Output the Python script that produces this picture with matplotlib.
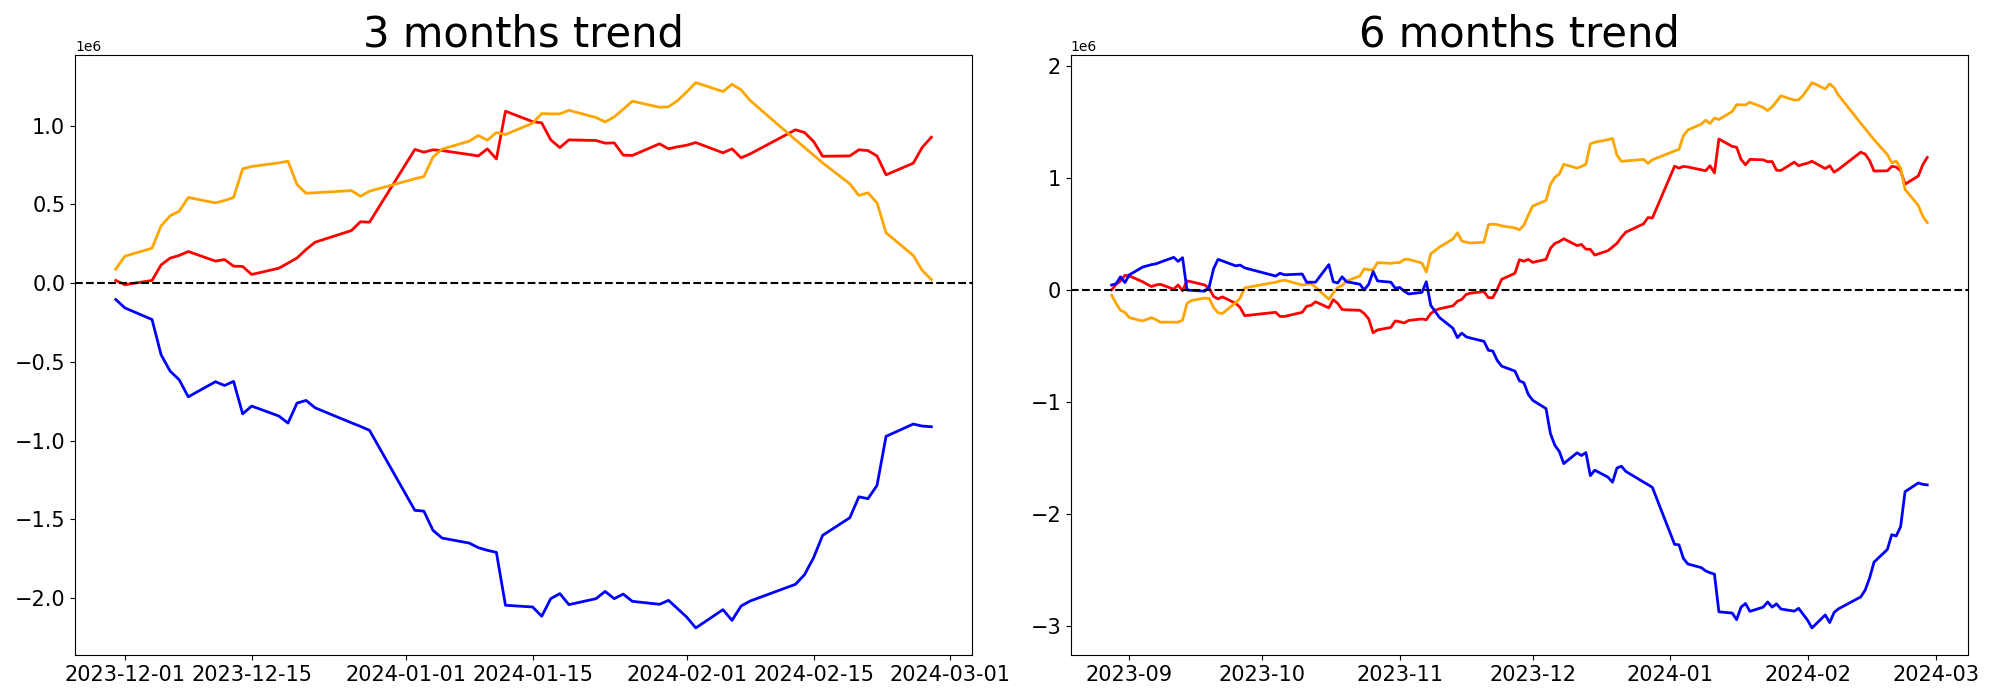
import matplotlib
matplotlib.use("Agg")
import matplotlib.pyplot as plt
import numpy as np
import pandas as pd

# Korean market closing days inside the plotted range
holidays = ['2023-09-28', '2023-09-29', '2023-10-02', '2023-10-03', '2023-10-09',
            '2023-12-25', '2023-12-29', '2024-01-01', '2024-02-09', '2024-02-12']

days_3m = pd.bdate_range('2023-11-30', '2024-02-28').drop(pd.to_datetime(holidays), errors='ignore')
days_6m = pd.bdate_range('2023-08-28', '2024-02-28').drop(pd.to_datetime(holidays), errors='ignore')

# values in millions
red_3m = [0.017, -0.01, 0.017, 0.116, 0.159, 0.176, 0.201, 0.14, 0.15, 0.108,
          0.106, 0.055, 0.095, 0.127, 0.16, 0.214, 0.26, 0.334, 0.39, 0.387,
          0.849, 0.832, 0.847, 0.842, 0.817, 0.808, 0.853, 0.789, 1.092, 1.026,
          1.018, 0.91, 0.861, 0.91, 0.906, 0.889, 0.891, 0.813, 0.811, 0.885,
          0.853, 0.866, 0.876, 0.893, 0.828, 0.853, 0.796, 0.821, 0.974, 0.957,
          0.9, 0.806, 0.808, 0.847, 0.842, 0.808, 0.688, 0.762, 0.863, 0.927]
orange_3m = [0.089, 0.171, 0.222, 0.364, 0.428, 0.457, 0.544, 0.51, 0.525, 0.544,
             0.726, 0.741, 0.764, 0.775, 0.626, 0.571, 0.574, 0.588, 0.552, 0.584,
             0.663, 0.677, 0.8, 0.851, 0.902, 0.938, 0.908, 0.957, 0.944, 1.016,
             1.077, 1.075, 1.075, 1.098, 1.052, 1.024, 1.056, 1.105, 1.156, 1.117,
             1.12, 1.16, 1.215, 1.274, 1.217, 1.263, 1.228, 1.16, 0.911, 0.862,
             0.813, 0.764, 0.631, 0.557, 0.574, 0.51, 0.32, 0.176, 0.08, 0.023]
blue_3m = [-0.104, -0.157, -0.231, -0.455, -0.559, -0.614, -0.722, -0.626, -0.65, -0.624,
           -0.83, -0.781, -0.844, -0.889, -0.762, -0.745, -0.792, -0.887, -0.91, -0.935,
           -1.443, -1.448, -1.57, -1.619, -1.651, -1.68, -1.697, -1.71, -2.046, -2.057,
           -2.116, -2.004, -1.972, -2.042, -2.004, -1.958, -2.004, -1.975, -2.021, -2.04,
           -2.015, -2.068, -2.121, -2.19, -2.074, -2.142, -2.051, -2.019, -1.913, -1.852,
           -1.744, -1.602, -1.49, -1.357, -1.369, -1.285, -0.973, -0.895, -0.908, -0.912]

red_6m = [0.0, 0.05, 0.08, 0.13, 0.125, 0.073, 0.05, 0.03, 0.044, 0.05,
          0.007, 0.044, -0.007, 0.08, 0.073, 0.044, 0.015, -0.058, -0.08, -0.062,
          -0.12, -0.157, -0.23, -0.2, -0.237, -0.237, -0.2, -0.146, -0.138, -0.106,
          -0.16, -0.087, -0.12, -0.175, -0.178, -0.182, -0.211, -0.259, -0.383, -0.357,
          -0.335, -0.277, -0.284, -0.295, -0.273, -0.259, -0.266, -0.211, -0.182, -0.168,
          -0.142, -0.102, -0.084, -0.04, -0.029, -0.015, -0.069, -0.069, 0.007, 0.095,
          0.149, 0.27, 0.256,
          0.273, 0.246, 0.273, 0.372, 0.415, 0.432, 0.457, 0.396, 0.406, 0.364,
          0.362, 0.311, 0.351, 0.383, 0.416, 0.47, 0.516, 0.59, 0.646, 0.643,
          1.105, 1.088, 1.103, 1.098, 1.073, 1.064, 1.109, 1.045, 1.348, 1.282,
          1.274, 1.166, 1.117, 1.166, 1.162, 1.145, 1.147, 1.069, 1.067, 1.141,
          1.109, 1.122, 1.132, 1.149, 1.084, 1.109, 1.052, 1.077, 1.23, 1.213,
          1.156, 1.062, 1.064, 1.103, 1.098, 1.064, 0.944, 1.018, 1.119, 1.183]
orange_6m = [-0.047, -0.12, -0.182, -0.2, -0.248, -0.277, -0.262, -0.248, -0.266, -0.288,
             -0.288, -0.288, -0.27, -0.12, -0.095, -0.073, -0.077, -0.157, -0.204, -0.211,
             -0.113, -0.073, 0.018, 0.069, 0.08, 0.087, 0.044, 0.051, 0.055, 0.026,
             -0.084, -0.029, 0.022, 0.04, 0.08, 0.124, 0.189, 0.179, 0.182, 0.244,
             0.237, 0.244, 0.244, 0.273, 0.273, 0.24, 0.16, 0.324, 0.353, 0.383,
             0.455, 0.51, 0.437, 0.426, 0.419, 0.426, 0.583, 0.587, 0.583, 0.572,
             0.554, 0.536, 0.578,
             0.667, 0.749, 0.8, 0.942, 1.006, 1.035, 1.122, 1.088, 1.103, 1.122,
             1.304, 1.319, 1.342, 1.353, 1.204, 1.149, 1.152, 1.166, 1.13, 1.162,
             1.241, 1.255, 1.378, 1.429, 1.48, 1.516, 1.486, 1.535, 1.522, 1.594,
             1.655, 1.653, 1.653, 1.676, 1.63, 1.602, 1.634, 1.683, 1.734, 1.695,
             1.698, 1.738, 1.793, 1.852, 1.795, 1.841, 1.806, 1.738, 1.489, 1.44,
             1.391, 1.342, 1.209, 1.135, 1.152, 1.088, 0.898, 0.754, 0.658, 0.601]
blue_6m = [0.044, 0.055, 0.117, 0.066, 0.135, 0.204, 0.215, 0.226, 0.233, 0.248,
           0.291, 0.255, 0.288, 0.0, -0.004, -0.011, 0.026, 0.189, 0.273, 0.259,
           0.215, 0.222, 0.197, 0.124, 0.149, 0.135, 0.142, 0.069, 0.069, 0.069,
           0.226, 0.073, 0.062, 0.117, 0.073, 0.051, 0.0, 0.051, 0.164, 0.08,
           0.069, 0.015, 0.022, -0.011, -0.036, -0.022, 0.073, -0.138, -0.193, -0.248,
           -0.342, -0.426, -0.386, -0.419, -0.43, -0.459, -0.539, -0.546, -0.63, -0.681,
           -0.725, -0.812, -0.829,
           -0.933, -0.986, -1.06, -1.284, -1.388, -1.443, -1.551, -1.455, -1.479, -1.453,
           -1.659, -1.61, -1.673, -1.718, -1.591, -1.574, -1.621, -1.716, -1.739, -1.764,
           -2.272, -2.277, -2.399, -2.448, -2.48, -2.509, -2.526, -2.539, -2.875, -2.886,
           -2.945, -2.833, -2.801, -2.871, -2.833, -2.787, -2.833, -2.804, -2.85, -2.869,
           -2.844, -2.897, -2.95, -3.019, -2.903, -2.971, -2.88, -2.848, -2.742, -2.681,
           -2.573, -2.431, -2.319, -2.186, -2.198, -2.114, -1.802, -1.724, -1.737, -1.741]

fig, axes = plt.subplots(1, 2, figsize=(20, 7), dpi=100)

panels = [
    (axes[0], days_3m, red_3m, orange_3m, blue_3m, '3 months trend'),
    (axes[1], days_6m, red_6m, orange_6m, blue_6m, '6 months trend'),
]

for ax, days, r, o, b, title in panels:
    ax.plot(days, np.array(r) * 1e6, color='red', linewidth=2)
    ax.plot(days, np.array(o) * 1e6, color='orange', linewidth=2)
    ax.plot(days, np.array(b) * 1e6, color='blue', linewidth=2)
    ax.axhline(0, color='black', linestyle='--', linewidth=1.5)
    ax.set_title(title, fontsize=30)
    ax.tick_params(axis='both', labelsize=15)

plt.subplots_adjust(left=0.0375, right=0.984, bottom=0.064, top=0.921, wspace=0.11)
plt.savefig("out.png")
